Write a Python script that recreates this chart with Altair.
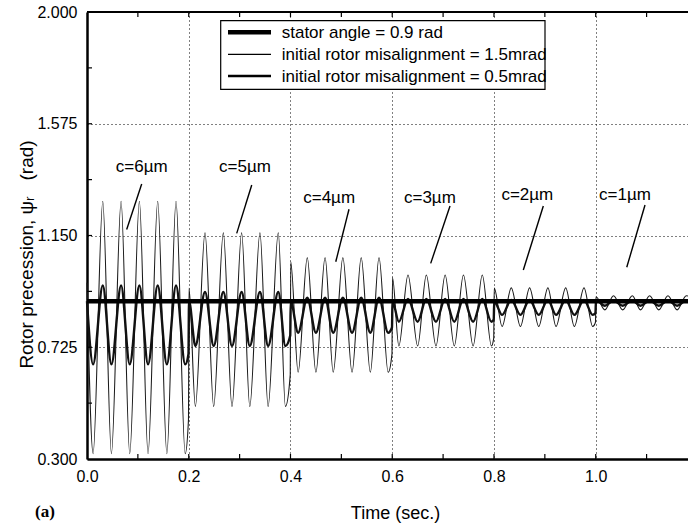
import altair as alt
import pandas as pd

# ---------------- data ----------------
series_labels = ["stator angle = 0.9 rad",
                 "initial rotor misalignment = 1.5mrad",
                 "initial rotor misalignment = 0.5mrad"]

stator_t = [0.0, 1.1814]
stator_v = [0.9, 0.9]

# c = 6 um segment (0.0 - 0.2 s)
t_c6 = [0.000, 0.012, 0.031, 0.048, 0.067, 0.084, 0.103, 0.120, 0.139, 0.157, 0.175, 0.193, 0.1995]
thin_c6 = [0.97, 0.32, 1.28, 0.32, 1.28, 0.32, 1.28, 0.32, 1.28, 0.32, 1.28, 0.32, 0.45]
med_c6 = [0.90, 0.66, 0.96, 0.66, 0.96, 0.66, 0.96, 0.66, 0.96, 0.66, 0.96, 0.66, 0.70]

# c = 5 um segment (0.2 - 0.4 s)
t_c5 = [0.2005, 0.213, 0.232, 0.249, 0.268, 0.285, 0.304, 0.320, 0.340, 0.356, 0.376, 0.390, 0.3995]
thin_c5 = [0.95, 0.50, 1.16, 0.50, 1.16, 0.50, 1.16, 0.50, 1.16, 0.50, 1.16, 0.50, 0.62]
med_c5 = [0.90, 0.73, 0.935, 0.73, 0.935, 0.73, 0.935, 0.73, 0.935, 0.73, 0.935, 0.73, 0.77]

# c = 4 um segment (0.4 - 0.6 s)
t_c4 = [0.4005, 0.415, 0.433, 0.450, 0.468, 0.484, 0.503, 0.521, 0.539, 0.557, 0.574, 0.592, 0.5995]
thin_c4 = [1.05, 0.63, 1.066, 0.63, 1.066, 0.63, 1.066, 0.63, 1.066, 0.63, 1.066, 0.63, 0.70]
med_c4 = [0.90, 0.78, 0.913, 0.78, 0.913, 0.78, 0.913, 0.78, 0.913, 0.78, 0.913, 0.78, 0.80]

# c = 3 um segment (0.6 - 0.8 s)
t_c3 = [0.6005, 0.613, 0.631, 0.650, 0.667, 0.686, 0.704, 0.722, 0.740, 0.759, 0.777, 0.795, 0.7995]
thin_c3 = [0.99, 0.73, 1.00, 0.73, 1.00, 0.73, 1.00, 0.73, 1.00, 0.73, 1.00, 0.73, 0.76]
med_c3 = [0.90, 0.822, 0.909, 0.822, 0.909, 0.822, 0.909, 0.822, 0.909, 0.822, 0.909, 0.822, 0.83]

# c = 2 um segment (0.8 - 1.0 s)
t_c2 = [0.8005, 0.816, 0.834, 0.852, 0.870, 0.888, 0.906, 0.922, 0.941, 0.958, 0.977, 0.994, 0.9995]
thin_c2 = [0.95, 0.804, 0.951, 0.804, 0.951, 0.804, 0.951, 0.804, 0.951, 0.804, 0.951, 0.804, 0.82]
med_c2 = [0.90, 0.848, 0.905, 0.848, 0.905, 0.848, 0.905, 0.848, 0.905, 0.848, 0.905, 0.848, 0.855]

# c = 1 um segment (1.0 - end)
t_c1 = [1.0005, 1.018, 1.035, 1.053, 1.072, 1.088, 1.106, 1.124, 1.142, 1.160, 1.178, 1.1814]
thin_c1 = [0.917, 0.867, 0.921, 0.867, 0.921, 0.867, 0.921, 0.867, 0.921, 0.867, 0.921, 0.92]
med_c1 = [0.905, 0.883, 0.903, 0.883, 0.903, 0.883, 0.903, 0.883, 0.903, 0.883, 0.903, 0.903]

# annotations
ann_labels = ["c=6µm", "c=5µm", "c=4µm", "c=3µm", "c=2µm", "c=1µm"]
ann_t = [0.1075, 0.3106, 0.476, 0.674, 0.8656, 1.0576]
ann_v = [1.412, 1.412, 1.291, 1.291, 1.304, 1.304]
ptr_t1 = [0.1075, 0.3238, 0.515, 0.7136, 0.897, 1.0969]
ptr_v1 = [1.346, 1.342, 1.250, 1.262, 1.262, 1.266]
ptr_t2 = [0.078, 0.2943, 0.489, 0.6756, 0.8577, 1.061]
ptr_v2 = [1.173, 1.158, 1.050, 1.044, 1.019, 1.029]

# axes
x_major = [0.0, 0.2, 0.4, 0.6, 0.8, 1.0]
y_major = [0.300, 0.725, 1.150, 1.575, 2.000]
x_ticks = [0.1, 0.2, 0.3, 0.4, 0.5, 0.6, 0.7, 0.8, 0.9, 1.0, 1.1]
y_ticks = [0.5125, 0.725, 0.9375, 1.15, 1.3625, 1.575, 1.7875]

# ---------------- build tables ----------------
thin_df = pd.DataFrame({"t": t_c6 + t_c5 + t_c4 + t_c3 + t_c2 + t_c1,
                        "v": thin_c6 + thin_c5 + thin_c4 + thin_c3 + thin_c2 + thin_c1})
med_df = pd.DataFrame({"t": t_c6 + t_c5 + t_c4 + t_c3 + t_c2 + t_c1,
                       "v": med_c6 + med_c5 + med_c4 + med_c3 + med_c2 + med_c1})
stator_df = pd.DataFrame({"t": stator_t, "v": stator_v})
ann_df = pd.DataFrame({"t": ann_t, "v": ann_v, "label": ann_labels})
ptr_df = pd.DataFrame({"t": ptr_t1, "v": ptr_v1, "t2": ptr_t2, "v2": ptr_v2})
xt_df = pd.DataFrame({"t": x_ticks})
yt_df = pd.DataFrame({"v": y_ticks})

FONT = "Liberation Sans"
W, H = 601, 447
Y_TITLE = "Rotor precession, ψᵣ\u00a0\u00a0\u00a0(rad)"

xscale = alt.Scale(domain=[0, 1.1814], nice=False, zero=False)
yscale = alt.Scale(domain=[0.3, 2.0], nice=False, zero=False)

x_axis = alt.Axis(values=x_major, format=".1f", labelFont=FONT, labelFontSize=16,
                  labelColor="black", labelPadding=9, ticks=False, domainColor="black",
                  domainWidth=2.5, grid=True, gridDash=[1, 3], gridColor="black",
                  gridOpacity=1, gridWidth=1, labelFlush=False, labelOverlap=False,
                  title="Time (sec.)", titleFont=FONT, titleFontSize=18,
                  titleFontWeight="normal", titleColor="black", titleX=308, titleY=59,
                  titleBaseline="alphabetic", titleAlign="center")
y_axis = alt.Axis(values=y_major, format=".3f", labelFont=FONT, labelFontSize=16,
                  labelColor="black", labelPadding=10, ticks=False, domainColor="black",
                  domainWidth=2.5, grid=True, gridDash=[1, 3], gridColor="black",
                  gridOpacity=1, gridWidth=1, labelFlush=False, labelOverlap=False,
                  title=Y_TITLE, titleFont=FONT, titleFontSize=19,
                  titleFontWeight="normal", titleColor="black", titleAngle=270,
                  titleX=-55, titleY=242, titleBaseline="alphabetic", titleAlign="center")

X = alt.X("t:Q", scale=xscale, axis=x_axis, title="Time (sec.)")
Y = alt.Y("v:Q", scale=yscale, axis=y_axis, title=Y_TITLE)

thin = alt.Chart(thin_df).mark_line(interpolate="monotone", color="#1a1a1a",
                                    strokeWidth=1.1).encode(x=X, y=Y)
med = alt.Chart(med_df).mark_line(interpolate="monotone", color="#111111",
                                  strokeWidth=2.4).encode(x=X, y=Y)
stator = alt.Chart(stator_df).mark_line(color="black", strokeWidth=4.5).encode(x=X, y=Y)

ptrs = alt.Chart(ptr_df).mark_rule(color="black", strokeWidth=1.4).encode(
    x=X, x2="t2", y=Y, y2="v2")
anns = alt.Chart(ann_df).mark_text(font=FONT, fontSize=17, color="black",
                                   align="center", baseline="middle").encode(
    x=X, y=Y, text="label:N")

xt = alt.Chart(xt_df).mark_rule(color="black", strokeWidth=1.2).encode(
    x=X, y=alt.value(H), y2=alt.value(H - 5))
xt_top = alt.Chart(xt_df).mark_rule(color="black", strokeWidth=1.2).encode(
    x=X, y=alt.value(0), y2=alt.value(5))
yt = alt.Chart(yt_df).mark_rule(color="black", strokeWidth=1.2).encode(
    y=Y, x=alt.value(0), x2=alt.value(5))

one = pd.DataFrame({"k": [0]})
top_line = alt.Chart(one).mark_rule(color="black", strokeWidth=2.2).encode(
    x=alt.value(0), x2=alt.value(W), y=alt.value(0))

# legend (drawn by hand to match the original box)
leg_box = alt.Chart(one).mark_rect(fill="white", stroke="black", strokeWidth=1.2).encode(
    x=alt.value(133.7), x2=alt.value(458), y=alt.value(8.7), y2=alt.value(77.3))
leg_widths = [4.5, 1.2, 2.6]
leg_rows = [20.3, 42.3, 64.0]
leg_layers = []
for lab, sw, ry in zip(series_labels, leg_widths, leg_rows):
    d = pd.DataFrame({"label": [lab]})
    leg_layers.append(alt.Chart(d).mark_rule(color="black", strokeWidth=sw).encode(
        x=alt.value(141), x2=alt.value(184), y=alt.value(ry)))
    leg_layers.append(alt.Chart(d).mark_text(font=FONT, fontSize=17, color="black",
                                             align="left", baseline="middle").encode(
        x=alt.value(194.7), y=alt.value(ry + 1), text="label:N"))

panel_tag = alt.Chart(one).mark_text(font="Liberation Serif", fontSize=17, fontWeight="bold",
                                     color="black", align="center",
                                     baseline="alphabetic").encode(
    x=alt.value(-42), y=alt.value(505.3), text=alt.value("(a)"))

chart = alt.layer(thin, med, stator, ptrs, anns, xt, xt_top, yt, top_line, leg_box,
                  *leg_layers, panel_tag).properties(
    width=W, height=H,
    padding={"left": 87, "top": 12, "right": 0, "bottom": 69},
    autosize=alt.AutoSizeParams(type="none"),
    background="white",
).configure_view(stroke=None)

chart.save("out.html", embed_options={"renderer": "svg", "actions": False})
